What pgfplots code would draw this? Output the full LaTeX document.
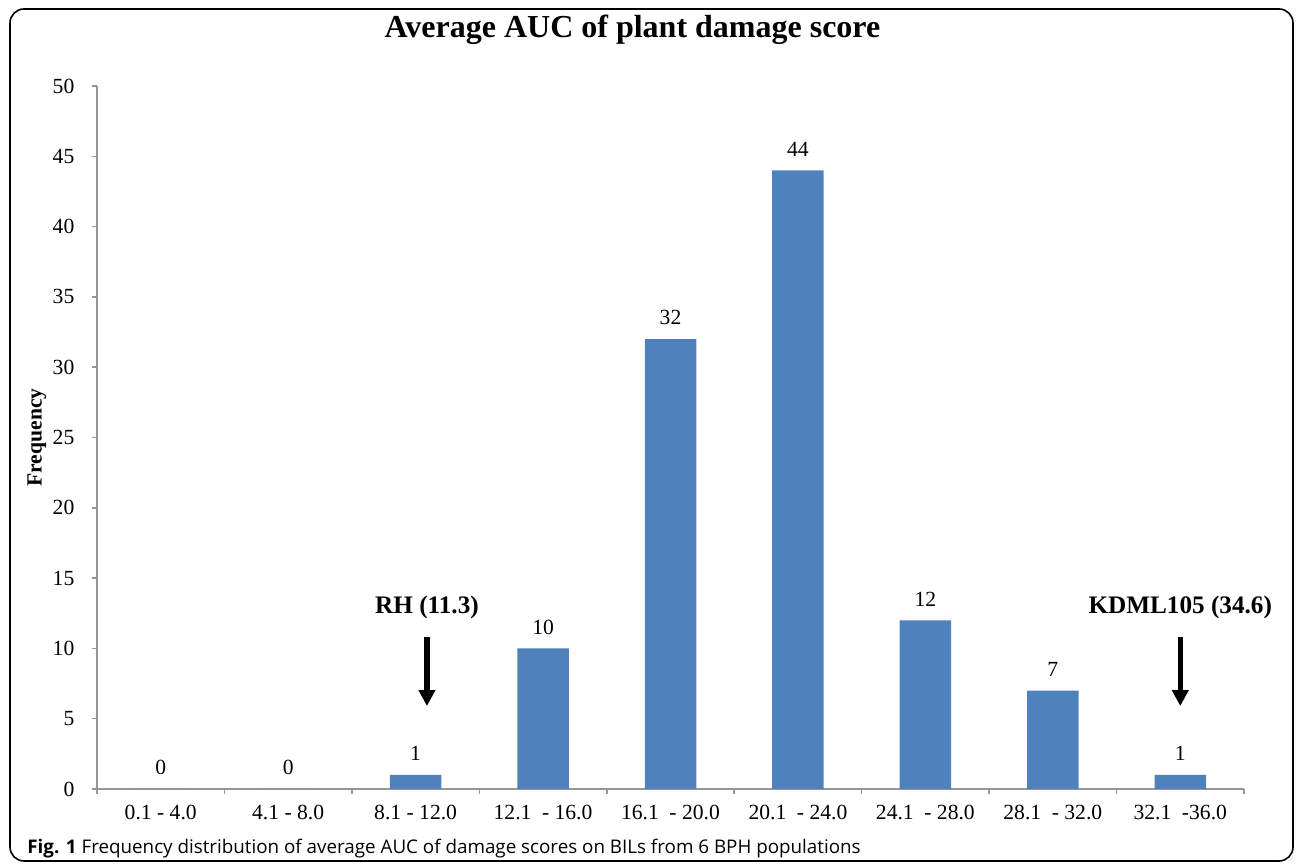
\documentclass[border=0pt]{standalone}
\usepackage{fontspec}
\setmainfont{Liberation Serif}
\newfontfamily\capfont{Open Sans}
\usepackage{pgfplots}
\pgfplotsset{compat=1.18}
\usetikzlibrary{arrows.meta}
\definecolor{barblue}{RGB}{79,129,189}
\definecolor{axgray}{RGB}{150,150,150}
\newcommand{\xsp}{\hspace{2.6pt}}
\begin{document}
\begin{tikzpicture}
\useasboundingbox (-48.5pt,-38.5pt) rectangle (599.5pt,394.5pt);
\draw[rounded corners=7pt, line width=0.8pt] (-43.5pt,-36pt) rectangle (598pt,390pt);
\begin{axis}[
  at={(0pt,0pt)}, anchor=south west,
  scale only axis, width=573.5pt, height=351.5pt,
  xmin=-0.5, xmax=8.5, ymin=0, ymax=50,
  ytick={0,5,...,50},
  xtick={0,...,8},
  xticklabels={0.1 - 4.0, 4.1 - 8.0, 8.1 - 12.0, 12.1\xsp{} - 16.0, 16.1\xsp{} - 20.0, 20.1\xsp{} - 24.0, 24.1\xsp{} - 28.0, 28.1\xsp{} - 32.0, 32.1\xsp{} -36.0},
  major tick length=2.5pt,
  x tick style={draw=none},
  extra x ticks={-0.5,0.5,...,8.5},
  extra x tick labels={},
  extra x tick style={x tick style={draw=axgray, line width=0.8pt}},
  y tick style={draw=axgray, line width=0.8pt},
  tick align=outside,
  axis lines*=left,
  axis line style={draw=axgray, line width=0.8pt},
  /pgf/number format/assume math mode=true,
  ticklabel style={font=\fontsize{10.8}{13}\selectfont},
  yticklabel style={xshift=-5.3pt},
  xticklabel style={yshift=-2pt},
  ylabel={Frequency},
  ylabel style={at={(axis description cs:-0.0523,0.5)}, anchor=center, font=\fontsize{10.8}{12}\selectfont\bfseries},
  title={Average AUC of plant damage score},
  title style={at={(axis description cs:0.4669,1.0626)}, anchor=center, font=\fontsize{16}{19}\selectfont\bfseries},
  ybar, bar width=25.75pt,
  nodes near coords,
  every node near coord/.append style={font=\fontsize{10.8}{13}\selectfont, yshift=3.5pt, text=black},
  clip=false,
]
\addplot[fill=barblue, draw=none] coordinates {
  (0,0) (1,0) (2,1) (3,10) (4,32) (5,44) (6,12) (7,7) (8,1)
};
\draw[line width=2.6pt, -{Triangle[width=8pt,length=8pt]}] (axis cs:2.089,10.81) -- (axis cs:2.089,5.9);
\draw[line width=2.6pt, -{Triangle[width=8pt,length=8pt]}] (axis cs:8.0,10.81) -- (axis cs:8.0,5.9);
\node[font=\fontsize{12.6}{15}\selectfont\bfseries] at (axis cs:2.089,12.94) {RH (11.3)};
\node[font=\fontsize{12.6}{15}\selectfont\bfseries] at (axis cs:8.0,12.94) {KDML105 (34.6)};
\end{axis}
\node[anchor=west, font=\capfont\fontsize{9.4}{11}\selectfont, inner sep=0pt] at (-35pt,-29.8pt) {\textbf{Fig. 1} Frequency distribution of average AUC of damage scores on BILs from 6 BPH populations};
\end{tikzpicture}
\end{document}
